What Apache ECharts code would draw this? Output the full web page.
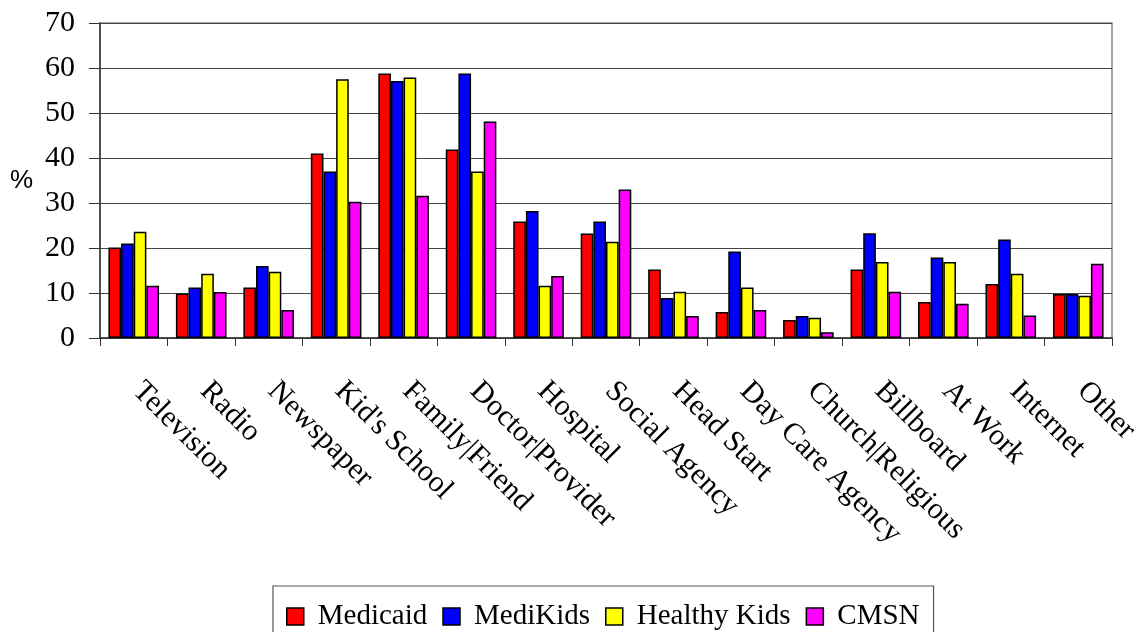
<!DOCTYPE html>
<html>
<head>
<meta charset="utf-8">
<script src="https://cdn.jsdelivr.net/npm/echarts@6/dist/echarts.min.js"></script>
<style>
html,body{margin:0;padding:0;background:#fff;}
#chart{width:1136px;height:632px;}
</style>
</head>
<body>
<div id="chart"></div>
<script>
var categories = ["Television","Radio","Newspaper","Kid's School","Family|Friend","Doctor|Provider","Hospital","Social Agency","Head Start","Day Care Agency","Church|Religious","Billboard","At Work","Internet","Other"];
var medicaid    = [20.1, 9.9, 11.2, 41.0, 58.8, 41.9, 25.9, 23.2, 15.2, 5.8, 4.0, 15.2, 8.0, 12.0, 9.8];
var mediKids    = [21.0, 11.2, 16.0, 37.0, 57.1, 58.8, 28.2, 25.9, 8.9, 19.2, 4.9, 23.3, 17.9, 21.9, 9.8];
var healthyKids = [23.6, 14.3, 14.7, 57.5, 57.9, 37.0, 11.6, 21.4, 10.3, 11.2, 4.5, 16.9, 16.9, 14.3, 9.4];
var cmsn        = [11.6, 10.2, 6.2, 30.3, 31.6, 48.1, 13.8, 33.0, 4.9, 6.2, 1.3, 10.3, 7.6, 5.0, 16.5];
var seriesNames = ["Medicaid","MediKids","Healthy Kids","CMSN"];
var yTicks = [0,10,20,30,40,50,60,70];

var colors = ["#FF0000","#0000FF","#FFFF00","#FF00FF"];
var dataSets = [medicaid, mediKids, healthyKids, cmsn];
var serif = "'Liberation Serif','Times New Roman',serif";

var chart = echarts.init(document.getElementById('chart'), null, {renderer:'canvas'});
var option = {
  animation: false,
  color: colors,
  grid: {left: 100, right: 24, top: 23, bottom: 294, containLabel: false, outerBoundsMode: 'none',
         show: true, borderColor: '#888', borderWidth: 1.5, backgroundColor: 'transparent'},
  legend: {
    data: seriesNames,
    left: 273, top: 586,
    padding: [16, 14, 30, 13],
    itemWidth: 17, itemHeight: 17, itemGap: 15,
    borderColor: '#555', borderWidth: 1.2,
    icon: 'rect',
    textStyle: {fontFamily: serif, fontSize: 29, color: '#000', padding: [0, 0, 0, 9]},
    itemStyle: {borderColor: '#000', borderWidth: 1.5}
  },
  xAxis: {
    type: 'category',
    data: categories,
    axisLine: {lineStyle: {color: '#333', width: 1.5}},
    axisTick: {show: true, alignWithLabel: false, length: 8, lineStyle: {color: '#333'}},
    axisLabel: {rotate: -45, margin: 45, padding: [0, 0, 0, 5], interval: 0, fontFamily: serif, fontSize: 30, color: '#000'}
  },
  yAxis: {
    type: 'value',
    min: 0, max: 70, interval: 10,
    name: '%', nameLocation: 'middle', nameRotate: 0, nameGap: 67,
    nameTextStyle: {fontFamily: "'Liberation Sans',Arial,sans-serif", fontSize: 26, color: '#000'},
    axisLine: {show: true, lineStyle: {color: '#333', width: 1.5}},
    axisTick: {show: true, length: 11, lineStyle: {color: '#333'}},
    axisLabel: {margin: 25, fontFamily: serif, fontSize: 30, color: '#000',
      formatter: function(v){ return yTicks.indexOf(v) >= 0 ? String(v) : ''; }},
    splitLine: {show: true, lineStyle: {color: '#444', width: 1.2}}
  },
  series: dataSets.map(function(d, i){
    return {
      name: seriesNames[i], type: 'bar', data: d,
      barGap: '0%', barCategoryGap: '25%',
      itemStyle: {color: colors[i], borderColor: '#000', borderWidth: 1.5}
    };
  }),
  graphic: [{
    type: 'text', left: 605, top: 314,
    style: {text: 't', fontFamily: serif, fontSize: 24, fill: '#000'}
  }]
};
chart.setOption(option);
</script>
</body>
</html>
